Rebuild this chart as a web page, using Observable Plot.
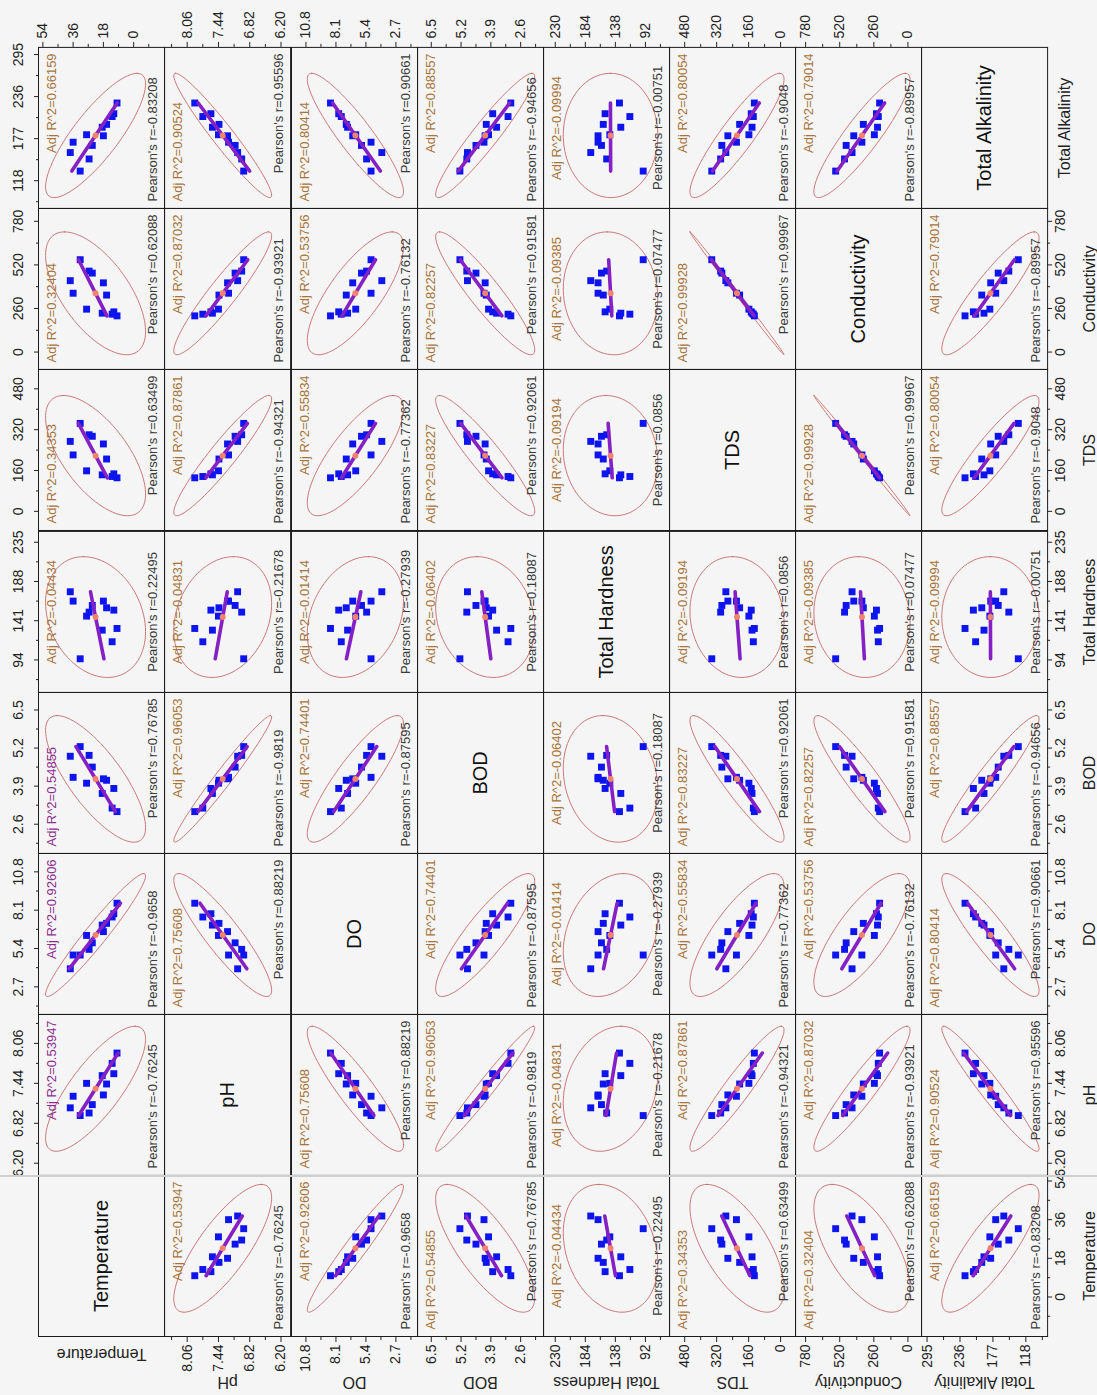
<!DOCTYPE html>
<html><head><meta charset="utf-8">
<script src="https://cdn.jsdelivr.net/npm/d3@7"></script>
<script src="https://cdn.jsdelivr.net/npm/@observablehq/plot@0.6"></script>
<style>
html,body{margin:0;padding:0;background:#f5f5f5;}
body{width:1097px;height:1395px;overflow:hidden;position:relative;font-family:"Liberation Sans",Arial,sans-serif;}
#rot{position:absolute;left:0;top:0;width:1395px;height:1097px;transform-origin:0 0;transform:translate(0px,1395px) rotate(-90deg);}
#rot svg{position:absolute;overflow:visible;}
#seam{position:absolute;top:0;height:1097px;width:1.6px;background:#cfcfcf;}
</style></head><body><div id="rot"></div>
<script>
// ---- data (12 samples) ----
const variables = ["Temperature","pH","DO","BOD","Total Hardness","TDS","Conductivity","Total Alkalinity"];
const temperature   = [9.9, 11.8, 12.8, 16.1, 18.7, 28.0, 18.0, 36.0, 24.6, 37.7, 26.5, 31.8];
const ph            = [7.91, 7.59, 7.75, 7.43, 7.56, 7.44, 7.26, 7.24, 7.11, 7.06, 6.98, 6.94];
const dissolvedO2   = [8.59, 7.85, 7.62, 7.17, 7.05, 6.32, 6.59, 4.94, 5.80, 3.97, 5.34, 4.94];
const bod           = [3.03, 3.82, 3.15, 4.10, 3.65, 4.00, 4.15, 4.20, 4.55, 4.92, 4.95, 5.25];
const totalHardness = [131.7, 153.7, 115.8, 156.5, 129.7, 146.5, 164.5, 164.5, 159.3, 175.7, 151.3, 95.4];
const tds           = [131.4, 147, 136.5, 205, 143, 158.7, 264, 221, 294, 274, 300, 344.5];
const conductivity  = [216, 240, 226, 340, 232, 256, 413, 351, 471, 426, 483, 551];
const alkalinity    = [227, 212, 208, 197, 193, 182.5, 181, 172, 167.5, 157.5, 148.5, 131.5];

// axis extents
const tempDomain = [-18.4, 56.6];
const phDomain   = [6.01, 8.51];
const doDomain   = [0.75, 12.1];
const bodDomain  = [1.6, 7.1];
const thDomain   = [55, 248];
const tdsDomain  = [-75, 556];
const condDomain = [-104, 857];
const taDomain   = [79, 305];

// tick labels (x axes / y axes)
const tempTicks = ["0","18","36","54"];
const phTicks   = ["6.20","6.82","7.44","8.06"];
const doTicks   = ["2.7","5.4","8.1","10.8"];
const bodTicks  = ["2.6","3.9","5.2","6.5"];
const thTicksX  = ["94","141","188","235"];
const thTicksY  = ["92","138","184","230"];
const tdsTicks  = ["0","160","320","480"];
const condTicks = ["0","260","520","780"];
const taTicks   = ["118","177","236","295"];

// pair statistics, order: (0,1),(0,2)...(0,7),(1,2)...(6,7)
const pearsonR = ["-0.76245","-0.9658","0.76785","0.22495","0.63499","0.62088","-0.83208",
  "0.88219","-0.9819","-0.21678","-0.94321","-0.93921","0.95596",
  "-0.87595","-0.27939","-0.77362","-0.76132","0.90661",
  "0.18087","0.92061","0.91581","-0.94656",
  "0.0856","0.07477","-0.00751",
  "0.99967","-0.9048",
  "-0.89957"];
const adjR2 = ["0.53947","0.92606","0.54855","-0.04434","0.34353","0.32404","0.66159",
  "0.75608","0.96053","-0.04831","0.87861","0.87032","0.90524",
  "0.74401","-0.01414","0.55834","0.53756","0.80414",
  "-0.06402","0.83227","0.82257","0.88557",
  "-0.09194","-0.09385","-0.09994",
  "0.99928","0.80054",
  "0.79014"];

// ---- layout ----
const columns = [temperature, ph, dissolvedO2, bod, totalHardness, tds, conductivity, alkalinity];
const domains = [tempDomain, phDomain, doDomain, bodDomain, thDomain, tdsDomain, condDomain, taDomain];
const xTicks = [tempTicks, phTicks, doTicks, bodTicks, thTicksX, tdsTicks, condTicks, taTicks];
const yTicks = [tempTicks, phTicks, doTicks, bodTicks, thTicksY, tdsTicks, condTicks, taTicks];
const nv = variables.length;
const cw = 161.1, ch = 126.1, gx = 58, gy = 38.3, M = 70;
const FONT = "Liberation Sans, Arial, Helvetica, sans-serif";
const pairIndex = (a, b) => { if (a > b) [a, b] = [b, a]; let k = 0; for (let p = 0; p < a; p++) k += nv - 1 - p; return k + (b - a - 1); };

function minorOf(vals, dom) {
  const step = vals[1] - vals[0];
  const out = vals.map(v => v + step / 2);
  out.push(vals[0] - step / 2);
  return out.filter(v => v >= dom[0] && v <= dom[1]);
}

function ellipse(xs, ys) {
  const n = xs.length, mx = d3.mean(xs), my = d3.mean(ys);
  const sx = d3.deviation(xs), sy = d3.deviation(ys);
  const r = d3.sum(xs.map((x, k) => (x - mx) * (ys[k] - my))) / ((n - 1) * sx * sy);
  const k2 = 3.13;
  return d3.range(0, 361, 4).map(t => {
    const a = t * Math.PI / 180;
    return {x: mx + k2 * sx * Math.cos(a), y: my + k2 * sy * (r * Math.cos(a) + Math.sqrt(Math.max(0, 1 - r * r)) * Math.sin(a))};
  });
}

// text placement: in the empty corners left by the ellipse
function placement(r, top) {
  if (Math.abs(r) < 0.3) return {frameAnchor: top ? "top" : "bottom", textAnchor: "middle", dx: 0};
  const leftSide = top ? r > 0 : r < 0;
  return leftSide
    ? {frameAnchor: top ? "top-left" : "bottom-left", textAnchor: "start", dx: 7}
    : {frameAnchor: top ? "top-right" : "bottom-right", textAnchor: "end", dx: -6};
}

const root = document.getElementById("rot");
for (let i = 0; i < nv; i++) {
  for (let j = 0; j < nv; j++) {
    const marks = [];
    if (i === j) {
      marks.push(Plot.text([variables[i]], {frameAnchor: "middle", fontSize: 20, fill: "#111"}));
    } else {
      const xs = columns[j], ys = columns[i];
      const data = xs.map((x, k) => ({x, y: ys[k]}));
      const mean = {x: d3.mean(xs), y: d3.mean(ys)};
      const p = pairIndex(i, j);
      const rv = +pearsonR[p];
      const adjColor = (i === 0 && j >= 1 && j <= 3) ? "#8e2d8e" : "#a8733a";
      marks.push(Plot.line(ellipse(xs, ys), {x: "x", y: "y", stroke: "#c66a6a", strokeWidth: 0.9, curve: "linear-closed"}));
      marks.push(Plot.dot(data, {x: "x", y: "y", symbol: "square", r: 3.9, fill: "#0d14ee", stroke: "none"}));
      marks.push(Plot.linearRegressionY(data, {x: "x", y: "y", stroke: "#8420c4", strokeWidth: 3.6, ci: 0}));
      marks.push(Plot.dot([mean], {x: "x", y: "y", r: 3, fill: "#f4826c", stroke: "none"}));
      marks.push(Plot.text(["Adj R^2=" + adjR2[p]], {...placement(rv, true), lineAnchor: "middle", dy: 13, fontSize: 13, fill: adjColor}));
      marks.push(Plot.text(["Pearson's r=" + pearsonR[p]], {...placement(rv, false), lineAnchor: "middle", dy: -12, fontSize: 13, fill: "#3a3a3a"}));
    }
    marks.push(Plot.frame({stroke: "#1c1c1c", strokeWidth: 1}));
    const xv = xTicks[j].map(Number), yv = yTicks[i].map(Number);
    const xfmt = d => xTicks[j][xv.indexOf(d)] ?? "";
    const yfmt = d => yTicks[i][yv.indexOf(d)] ?? "";
    const common = {label: null, fontSize: 14, fill: "#222", stroke: "#222"};
    if (i === nv - 1 && j !== nv - 1) {
      marks.push(Plot.axisX(xv, {...common, anchor: "bottom", tickSize: 5, tickPadding: 2, tickFormat: xfmt}));
      marks.push(Plot.axisX(minorOf(xv, domains[j]), {...common, anchor: "bottom", tickSize: 3, tickFormat: () => ""}));
    }
    if (i === 0 && j !== 0) {
      marks.push(Plot.axisX(xv, {...common, anchor: "top", tickSize: 5, tickPadding: 10, tickFormat: xfmt}));
      marks.push(Plot.axisX(minorOf(xv, domains[j]), {...common, anchor: "top", tickSize: 3, tickFormat: () => ""}));
    }
    if (j === 0 && i !== 0) {
      marks.push(Plot.axisY(yv, {...common, anchor: "left", tickSize: 5, tickPadding: 3, tickFormat: yfmt}));
      marks.push(Plot.axisY(minorOf(yv, domains[i]), {...common, anchor: "left", tickSize: 3, tickFormat: () => ""}));
    }
    if (j === nv - 1 && i !== nv - 1) {
      marks.push(Plot.axisY(yv, {...common, anchor: "right", tickSize: 5, tickPadding: 4, tickFormat: yfmt}));
      marks.push(Plot.axisY(minorOf(yv, domains[i]), {...common, anchor: "right", tickSize: 3, tickFormat: () => ""}));
    }
    if (i === nv - 1) {
      marks.push(Plot.text([variables[j]], {frameAnchor: "bottom", lineAnchor: "middle", dy: j === nv - 1 ? 17 : 42, fontSize: 16, fill: "#222"}));
    }
    if (j === 0) {
      marks.push(Plot.text([variables[i]], {frameAnchor: "left", rotate: -90, textAnchor: "middle", lineAnchor: "middle", dx: i === 0 ? -18 : -46, fontSize: 16, fill: "#222"}));
    }
    const svg = Plot.plot({
      width: cw + 2 * M, height: ch + 2 * M,
      marginTop: M, marginRight: M, marginBottom: M, marginLeft: M,
      x: {domain: domains[j], axis: null},
      y: {domain: domains[i], axis: null},
      style: {background: "transparent", overflow: "visible", maxWidth: "none", fontFamily: FONT, fontSize: "14px"},
      marks
    });
    svg.style.left = (gx + j * cw - M) + "px";
    svg.style.top = (gy + i * ch - M) + "px";
    root.appendChild(svg);
  }
}
const seam = document.createElement("div");
seam.id = "seam";
seam.style.left = (gx + cw - 0.8) + "px";
root.appendChild(seam);
</script>
</body></html>
